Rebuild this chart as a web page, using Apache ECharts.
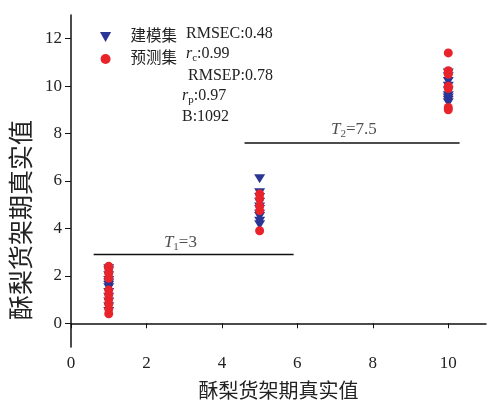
<!DOCTYPE html>
<html><head><meta charset="utf-8">
<script src="https://cdn.jsdelivr.net/npm/echarts@6/dist/echarts.min.js"></script>
<style>html,body{margin:0;padding:0;background:#fff}#c{width:487px;height:408px}</style>
</head><body><div id="c"></div>
<script>
const seriesNames = ['建模集', '预测集'];
const calX = [1,1,1,1,1,1,1,1,1,1,1,1, 5,5,5,5,5,5,5,5,5,5, 10,10,10,10,10,10,10,10,10];
const calY = [0.5,0.7,0.9,1.1,1.3,1.5,1.6,1.7,1.8,2.0,2.2,2.3, 6.1,5.5,5.3,5.1,4.9,4.8,4.6,4.5,4.3,4.15, 10.55,10.4,10.2,10.0,9.8,9.6,9.5,9.4,9.3];
const preX = [1,1,1,1,1,1,1,1,1,1, 5,5,5,5,5, 10,10,10,10,10,10,10];
const preY = [0.4,0.6,0.8,1.0,1.2,1.4,1.9,2.1,2.3,2.4, 5.45,5.25,4.95,4.75,3.9, 11.4,10.65,10.5,10.0,9.9,9.1,9.0];
const t1Line = [[0.6, 2.9], [5.9, 2.9]];
const t2Line = [[4.6, 7.6], [10.3, 7.6]];
const t1Label = [2.9, 3.4];
const t2Label = [7.5, 8.15];
const xTicks = [0, 2, 4, 6, 8, 10];
const yTicks = [0, 2, 4, 6, 8, 10, 12];
const axisTitle = '酥梨货架期真实值';
const stats = ['RMSEC:0.48', '{i|r}{s|c}:0.99', 'RMSEP:0.78', '{i|r}{s|p}:0.97', 'B:1092'];

const serif = '"Liberation Serif", "Noto Sans CJK SC", serif';
const blue = '#2B3595';
const red = '#E8232A';
const tri = 'path://M0,0L10,0L5,9Z';

const chart = echarts.init(document.getElementById('c'));
const statPos = [[186, 34], [186, 54], [188, 76], [182, 96], [182, 117]];
const rich = {
  i: {fontFamily: serif, fontStyle: 'italic', fontSize: 16, color: '#222'},
  s: {fontFamily: serif, fontSize: 11, color: '#222', padding: [8, 0, 0, 0]}
};
const graphics = stats.map((t, k) => ({
  type: 'text', x: statPos[k][0], y: statPos[k][1],
  style: {text: t, rich: rich, font: '16px ' + serif, fill: '#222', verticalAlign: 'middle', align: 'left'}
}));
graphics.push({
  type: 'text', x: 23, y: 220, rotation: Math.PI / 2,
  style: {text: axisTitle, font: '25px ' + serif, fill: '#222', align: 'center', verticalAlign: 'middle'}
});

const labelRich = {
  i: {fontFamily: serif, fontStyle: 'italic', fontSize: 17, color: '#222'},
  s: {fontFamily: serif, fontSize: 11, color: '#222', padding: [8, 0, 0, 0]},
  n: {fontFamily: serif, fontSize: 17, color: '#222'}
};

chart.setOption({
  animation: false,
  backgroundColor: '#fff',
  grid: {left: 71, right: 1, top: 15, bottom: 55, containLabel: false},
  xAxis: {
    type: 'value', min: 0, max: 11,
    name: axisTitle, nameLocation: 'middle', nameGap: 36,
    nameTextStyle: {fontFamily: serif, fontSize: 20, color: '#222'},
    axisLine: {lineStyle: {color: '#111', width: 1.5}},
    axisTick: {customValues: xTicks, length: 5, lineStyle: {color: '#111'}},
    axisLabel: {customValues: xTicks, fontFamily: serif, fontSize: 17, color: '#222', margin: 8},
    splitLine: {show: false}
  },
  yAxis: {
    type: 'value', min: -1, max: 13,
    axisLine: {show: true, lineStyle: {color: '#111', width: 1.5}},
    axisTick: {show: true, customValues: yTicks, length: 6, lineStyle: {color: '#111'}},
    axisLabel: {customValues: yTicks, fontFamily: serif, fontSize: 17, color: '#222', margin: 9},
    splitLine: {show: false}
  },
  legend: {
    orient: 'vertical', left: 95, top: 24, itemWidth: 12, itemHeight: 10, itemGap: 6,
    data: [{name: seriesNames[0], icon: tri}, {name: seriesNames[1], icon: 'circle'}],
    textStyle: {fontFamily: serif, fontSize: 15.5, color: '#222', lineHeight: 16, padding: [0, 0, 0, 14]}
  },
  graphic: graphics,
  series: [
    {name: seriesNames[0], type: 'scatter', symbol: tri, symbolSize: [11, 9],
     itemStyle: {color: blue, opacity: 1}, data: calX.map((x, k) => [x, calY[k]]), z: 3},
    {name: seriesNames[1], type: 'scatter', symbol: 'circle', symbolSize: 9,
     itemStyle: {color: red, opacity: 1}, data: preX.map((x, k) => [x, preY[k]]), z: 4},
    {type: 'line', data: t1Line, symbol: 'none', lineStyle: {color: '#111', width: 1.5}, silent: true},
    {type: 'line', data: t2Line, symbol: 'none', lineStyle: {color: '#111', width: 1.5}, silent: true},
    {type: 'scatter', symbolSize: 0, silent: true, data: [
      {value: t1Label, label: {show: true, position: 'inside', formatter: '{i|T}{s|1}{n|=3}', rich: labelRich}},
      {value: t2Label, label: {show: true, position: 'inside', formatter: '{i|T}{s|2}{n|=7.5}', rich: labelRich}}
    ]}
  ]
});
</script></body></html>
